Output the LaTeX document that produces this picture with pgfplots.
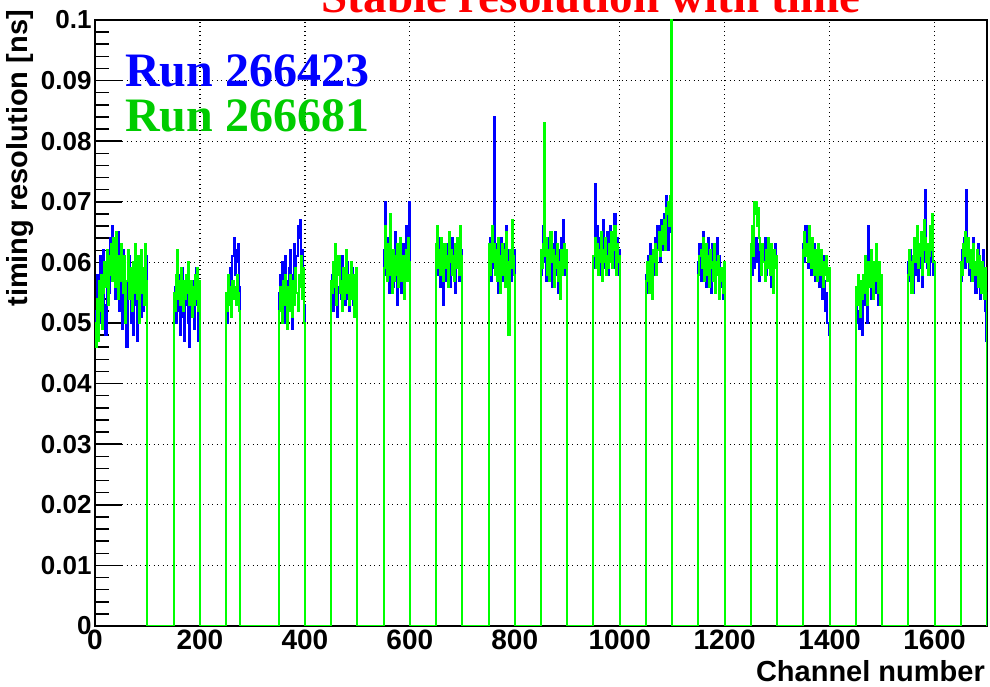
\documentclass[border=0pt]{standalone}
\usepackage{pgfplots}
\pgfplotsset{compat=1.18}
\usepackage{pgfplotstable}
\usepackage{fontspec}
\setmainfont{Liberation Serif}
\newfontfamily\arialb{Liberation Sans}
\definecolor{rblue}{RGB}{0,0,255}
\definecolor{rgreen}{RGB}{0,255,0}
\definecolor{lgreen}{RGB}{0,204,0}
\definecolor{rred}{RGB}{255,0,0}
\pgfplotstableread{
x b g
0 0.047 0.050
2 0.052 0.046
4 0.058 0.054
6 0.049 0.047
8 0.055 0.057
10 0.061 0.052
12 0.050 0.058
14 0.056 0.049
16 0.062 0.055
18 0.053 0.060
20 0.048 0.056
22 0.057 0.062
24 0.060 0.053
26 0.055 0.061
28 0.064 0.058
30 0.059 0.063
32 0.066 0.057
34 0.061 0.064
36 0.058 0.060
38 0.054 0.056
40 0.063 0.065
42 0.057 0.059
44 0.065 0.054
46 0.052 0.061
48 0.060 0.057
50 0.055 0.063
52 0.049 0.058
54 0.062 0.055
56 0.058 0.061
58 0.053 0.050
60 0.046 0.057
62 0.057 0.062
64 0.061 0.054
66 0.055 0.059
68 0.050 0.056
70 0.059 0.052
72 0.048 0.060
74 0.056 0.055
76 0.062 0.063
78 0.053 0.058
80 0.047 0.054
82 0.058 0.061
84 0.054 0.050
86 0.060 0.057
88 0.051 0.062
90 0.057 0.055
92 0.052 0.059
94 0.059 0.053
96 0.055 0.063
98 0.061 0.057
100 0 0
150 0.053 0.055
152 0.056 0.052
154 0.050 0.058
156 0.054 0.062
158 0.058 0.054
160 0.052 0.057
162 0.048 0.053
164 0.055 0.059
166 0.059 0.055
168 0.051 0.052
170 0.047 0.057
172 0.056 0.054
174 0.053 0.058
176 0.058 0.055
178 0.050 0.060
180 0.046 0.053
182 0.055 0.057
184 0.052 0.051
186 0.057 0.056
188 0.049 0.053
190 0.054 0.058
192 0.059 0.054
194 0.053 0.059
196 0.047 0.052
198 0.056 0.057
200 0 0
250 0.053 0.055
252 0.050 0.052
254 0.056 0.058
256 0.054 0.053
258 0.059 0.056
260 0.055 0.051
262 0.061 0.057
264 0.064 0.054
266 0.058 0.056
268 0.062 0.053
270 0.060 0.058
272 0.063 0.055
274 0.056 0.052
276 0 0
350 0.055 0.052
352 0.058 0.056
354 0.052 0.054
356 0.060 0.050
358 0.056 0.057
360 0.050 0.053
362 0.061 0.058
364 0.054 0.055
366 0.057 0.049
368 0.053 0.056
370 0.059 0.052
372 0.062 0.058
374 0.055 0.054
376 0.049 0.051
378 0.058 0.057
380 0.063 0.053
382 0.057 0.059
384 0.061 0.055
386 0.066 0.052
388 0.064 0.058
390 0.067 0.056
392 0.059 0.061
394 0.062 0.054
396 0.056 0.059
398 0.053 0.050
400 0 0
450 0.054 0.057
452 0.058 0.055
454 0.052 0.060
456 0.060 0.056
458 0.055 0.063
460 0.057 0.053
462 0.051 0.058
464 0.056 0.061
466 0.059 0.055
468 0.054 0.057
470 0.061 0.052
472 0.055 0.059
474 0.058 0.054
476 0.053 0.056
478 0.057 0.062
480 0.060 0.055
482 0.054 0.058
484 0.052 0.053
486 0.058 0.057
488 0.055 0.060
490 0.059 0.054
492 0.053 0.058
494 0.056 0.051
496 0.054 0.056
498 0.057 0.059
500 0 0
550 0.062 0.059
552 0.070 0.066
554 0.058 0.061
556 0.064 0.057
558 0.060 0.063
560 0.055 0.058
562 0.063 0.068
564 0.058 0.060
566 0.061 0.055
568 0.056 0.062
570 0.059 0.057
572 0.065 0.061
574 0.060 0.058
576 0.053 0.063
578 0.062 0.056
580 0.057 0.060
582 0.061 0.064
584 0.055 0.057
586 0.063 0.061
588 0.058 0.054
590 0.060 0.059
592 0.066 0.062
594 0.059 0.057
596 0.062 0.064
598 0.070 0.060
600 0 0
650 0.061 0.063
652 0.058 0.066
654 0.064 0.059
656 0.060 0.062
658 0.056 0.058
660 0.062 0.064
662 0.059 0.060
664 0.053 0.057
666 0.061 0.063
668 0.057 0.059
670 0.063 0.061
672 0.059 0.056
674 0.062 0.065
676 0.056 0.060
678 0.060 0.062
680 0.064 0.058
682 0.058 0.061
684 0.061 0.057
686 0.055 0.063
688 0.062 0.059
690 0.059 0.064
692 0.063 0.060
694 0.057 0.058
696 0.060 0.066
698 0.062 0.061
700 0 0
750 0.060 0.063
752 0.064 0.058
754 0.057 0.061
756 0.062 0.066
758 0.059 0.060
760 0.084 0.063
762 0.063 0.058
764 0.058 0.062
766 0.061 0.057
768 0.055 0.064
770 0.062 0.060
772 0.060 0.055
774 0.064 0.061
776 0.057 0.063
778 0.063 0.058
780 0.059 0.062
782 0.061 0.056
784 0.066 0.065
786 0.058 0.060
788 0.062 0.048
790 0.060 0.062
792 0.057 0.059
794 0.064 0.067
796 0.059 0.061
798 0.062 0.058
800 0 0
850 0.058 0.062
852 0.062 0.059
854 0.066 0.063
856 0.060 0.083
858 0.063 0.061
860 0.057 0.064
862 0.061 0.058
864 0.064 0.062
866 0.059 0.057
868 0.062 0.065
870 0.056 0.060
872 0.063 0.062
874 0.060 0.056
876 0.065 0.061
878 0.058 0.059
880 0.061 0.063
882 0.055 0.057
884 0.062 0.060
886 0.059 0.054
888 0.064 0.062
890 0.060 0.058
892 0.067 0.061
894 0.058 0.063
896 0.062 0.059
898 0.060 0.062
900 0 0
950 0.059 0.061
952 0.073 0.064
954 0.062 0.059
956 0.066 0.063
958 0.060 0.058
960 0.064 0.062
962 0.058 0.060
964 0.063 0.065
966 0.061 0.057
968 0.067 0.062
970 0.059 0.060
972 0.063 0.064
974 0.060 0.058
976 0.065 0.061
978 0.058 0.059
980 0.062 0.063
982 0.066 0.060
984 0.060 0.065
986 0.063 0.059
988 0.059 0.062
990 0.068 0.066
992 0.061 0.058
994 0.064 0.063
996 0.058 0.060
998 0.062 0.061
1000 0 0
1050 0.058 0.057
1052 0.055 0.060
1054 0.061 0.058
1056 0.059 0.055
1058 0.063 0.061
1060 0.057 0.059
1062 0.060 0.054
1064 0.062 0.062
1066 0.058 0.060
1068 0.064 0.063
1070 0.061 0.058
1072 0.066 0.062
1074 0.063 0.065
1076 0.060 0.061
1078 0.067 0.064
1080 0.064 0.066
1082 0.062 0.063
1084 0.068 0.067
1086 0.065 0.062
1088 0.071 0.069
1090 0.066 0.068
1092 0.062 0.070
1094 0.069 0.066
1096 0.065 0.071
1098 0.070 0.120
1100 0 0
1150 0.060 0.058
1152 0.063 0.061
1154 0.057 0.062
1156 0.061 0.059
1158 0.065 0.064
1160 0.059 0.057
1162 0.062 0.060
1164 0.056 0.063
1166 0.060 0.058
1168 0.064 0.061
1170 0.058 0.056
1172 0.061 0.062
1174 0.055 0.059
1176 0.063 0.060
1178 0.059 0.057
1180 0.062 0.063
1182 0.057 0.055
1184 0.060 0.060
1186 0.064 0.058
1188 0.058 0.061
1190 0.061 0.054
1192 0.056 0.059
1194 0.059 0.057
1196 0.054 0.055
1198 0.058 0.060
1200 0 0
1250 0.060 0.063
1252 0.058 0.066
1254 0.062 0.061
1256 0.059 0.070
1258 0.061 0.068
1260 0.064 0.070
1262 0.060 0.066
1264 0.063 0.069
1266 0.057 0.064
1268 0.061 0.062
1270 0.059 0.058
1272 0.062 0.063
1274 0.060 0.060
1276 0.064 0.057
1278 0.058 0.062
1280 0.061 0.059
1282 0.063 0.064
1284 0.059 0.061
1286 0.062 0.058
1288 0.056 0.063
1290 0.060 0.060
1292 0.058 0.055
1294 0.061 0.062
1296 0.063 0.059
1298 0.059 0.061
1300 0 0
1350 0.063 0.062
1352 0.060 0.065
1354 0.066 0.061
1356 0.062 0.063
1358 0.059 0.060
1360 0.064 0.066
1362 0.061 0.062
1364 0.058 0.059
1366 0.062 0.064
1368 0.060 0.061
1370 0.063 0.058
1372 0.057 0.062
1374 0.061 0.060
1376 0.059 0.057
1378 0.062 0.063
1380 0.056 0.060
1382 0.060 0.058
1384 0.058 0.062
1386 0.054 0.059
1388 0.061 0.056
1390 0.057 0.060
1392 0.052 0.058
1394 0.055 0.061
1396 0.050 0.057
1398 0.048 0.059
1400 0 0
1450 0.054 0.056
1452 0.050 0.053
1454 0.052 0.058
1456 0.049 0.055
1458 0.055 0.051
1460 0.051 0.057
1462 0.048 0.054
1464 0.056 0.058
1466 0.053 0.055
1468 0.058 0.061
1470 0.055 0.057
1472 0.050 0.053
1474 0.066 0.060
1476 0.057 0.056
1478 0.054 0.062
1480 0.060 0.058
1482 0.056 0.054
1484 0.059 0.060
1486 0.055 0.057
1488 0.061 0.063
1490 0.057 0.059
1492 0.053 0.055
1494 0.058 0.060
1496 0.055 0.053
1498 0.057 0.058
1500 0 0
1550 0.060 0.058
1552 0.057 0.062
1554 0.062 0.060
1556 0.058 0.055
1558 0.055 0.061
1560 0.061 0.064
1562 0.058 0.060
1564 0.064 0.062
1566 0.060 0.066
1568 0.057 0.059
1570 0.063 0.063
1572 0.059 0.061
1574 0.062 0.065
1576 0.056 0.058
1578 0.060 0.062
1580 0.065 0.067
1582 0.072 0.064
1584 0.063 0.060
1586 0.059 0.063
1588 0.062 0.058
1590 0.058 0.061
1592 0.063 0.066
1594 0.060 0.062
1596 0.064 0.068
1598 0.058 0.060
1600 0 0
1650 0.057 0.060
1652 0.062 0.058
1654 0.060 0.063
1656 0.064 0.061
1658 0.059 0.065
1660 0.072 0.062
1662 0.063 0.060
1664 0.060 0.064
1666 0.058 0.061
1668 0.062 0.059
1670 0.057 0.062
1672 0.061 0.057
1674 0.064 0.063
1676 0.059 0.060
1678 0.055 0.058
1680 0.060 0.062
1682 0.063 0.056
1684 0.058 0.061
1686 0.054 0.059
1688 0.060 0.055
1690 0.057 0.060
1692 0.062 0.058
1694 0.056 0.054
1696 0.052 0.059
1698 0.047 0.055
1700 0 0
}\resdata
\begin{document}
\begin{tikzpicture}
\useasboundingbox (-95pt,-61pt) rectangle (895pt,626pt);
\begin{axis}[
  at={(0pt,0pt)}, anchor=south west,
  scale only axis, width=892pt, height=606pt,
  xmin=0, xmax=1700, ymin=0, ymax=0.1,
  xtick={0,200,...,1600},
  ytick={0,0.01,...,0.1},
  minor y tick num=4,
  ytick pos=left,
  xtick pos=bottom,
  tick align=inside,
  major tick length=27pt, minor tick length=14pt,
  every tick/.style={black, line width=1.5pt},
  every major x tick/.style={draw=none},
  every x tick/.style={draw=none},
  axis line style={black, line width=2pt},
  grid=major,
  major grid style={black, line width=1.3pt, dash pattern=on 1.3pt off 3.2pt},
  scaled y ticks=false,
  scaled x ticks=false,
  yticklabel style={/pgf/number format/fixed, /pgf/number format/precision=2},
  xticklabel style={/pgf/number format/1000 sep={}},
  /pgf/number format/assume math mode=true,
  xticklabel style={font=\arialb\bfseries\fontsize{28}{28}\selectfont},
  yticklabel style={font=\arialb\bfseries\fontsize{26}{26}\selectfont},
  clip=true,
]
\addplot[const plot, color=rblue, line width=2pt] table[x=x, y=b] {\resdata};
\addplot[const plot, color=rgreen, line width=2pt] table[x=x, y=g] {\resdata};
\end{axis}
\node[anchor=base, text=rred, font=\bfseries\fontsize{47}{47}\selectfont, inner sep=0pt] at (496pt,613pt) {Stable resolution with time};
\node[anchor=base west, text=rblue, font=\bfseries\fontsize{48}{48}\selectfont, inner sep=0pt] at (30pt,539pt) {Run 266423};
\node[anchor=base west, text=lgreen, font=\bfseries\fontsize{48}{48}\selectfont, inner sep=0pt] at (30pt,494pt) {Run 266681};
\node[anchor=base east, font=\arialb\bfseries\fontsize{29}{29}\selectfont, inner sep=0pt] at (890pt,-56pt) {Channel number};
\node[rotate=90, anchor=east, font=\arialb\bfseries\fontsize{29}{29}\selectfont, inner sep=0pt] at (-75pt,616pt) {timing resolution [ns]};
\end{tikzpicture}
\end{document}
